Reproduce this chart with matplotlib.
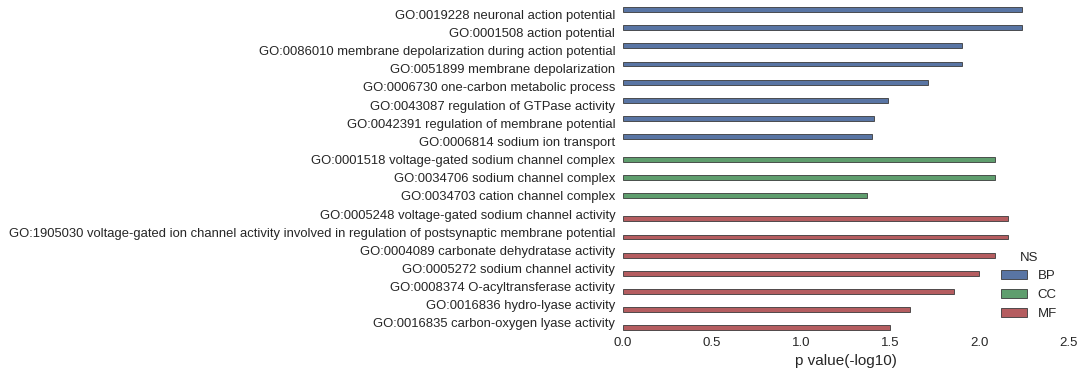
import pandas as pd
import matplotlib
matplotlib.use('Agg')
import matplotlib.pyplot as plt
import seaborn as sns

# GO terms, their namespace and -log10 p values
terms = [
    'GO:0019228 neuronal action potential',
    'GO:0001508 action potential',
    'GO:0086010 membrane depolarization during action potential',
    'GO:0051899 membrane depolarization',
    'GO:0006730 one-carbon metabolic process',
    'GO:0043087 regulation of GTPase activity',
    'GO:0042391 regulation of membrane potential',
    'GO:0006814 sodium ion transport',
    'GO:0001518 voltage-gated sodium channel complex',
    'GO:0034706 sodium channel complex',
    'GO:0034703 cation channel complex',
    'GO:0005248 voltage-gated sodium channel activity',
    'GO:1905030 voltage-gated ion channel activity involved in regulation of postsynaptic membrane potential',
    'GO:0004089 carbonate dehydratase activity',
    'GO:0005272 sodium channel activity',
    'GO:0008374 O-acyltransferase activity',
    'GO:0016836 hydro-lyase activity',
    'GO:0016835 carbon-oxygen lyase activity',
]
ns = ['BP'] * 8 + ['CC'] * 3 + ['MF'] * 7
pvals = [2.24, 2.24, 1.90, 1.90, 1.71, 1.485, 1.41, 1.395,
         2.085, 2.085, 1.367,
         2.158, 2.158, 2.085, 1.996, 1.855, 1.609, 1.497]
ns_order = ['BP', 'CC', 'MF']
colors = ['#4C72B0', '#55A868', '#C44E52']

df = pd.DataFrame({'term': terms, 'NS': ns, 'p': pvals})

sns.set_style('white')
plt.rcParams['font.family'] = ['Liberation Sans', 'DejaVu Sans']

fig = plt.figure(figsize=(10.85, 3.79), dpi=100)
ax = fig.add_axes([0.574, 0.124, 0.411, 0.862])
sns.barplot(data=df, x='p', y='term', hue='NS', hue_order=ns_order,
            palette=colors, orient='h', dodge=True, ax=ax,
            edgecolor='#3a3a3a', linewidth=0.6)

ax.set_xlim(0, 2.5)
ax.set_xticks([0.0, 0.5, 1.0, 1.5, 2.0, 2.5])
ax.set_xticklabels(['0.0', '0.5', '1.0', '1.5', '2.0', '2.5'])
ax.set_xlabel('p value(-log10)', fontsize=11, color='#262626')
ax.set_ylabel('')
ax.tick_params(axis='both', length=0, labelsize=9.5, colors='#262626')
ax.tick_params(axis='y', pad=5.5, labelsize=9.4)
for s in ax.spines.values():
    s.set_visible(False)

leg = ax.legend(title='NS', loc='lower right', frameon=False, fontsize=9.5,
                title_fontsize=9.5, handlelength=2.0)
for t in leg.get_texts():
    t.set_color('#262626')

fig.savefig('out.png', dpi=100)
